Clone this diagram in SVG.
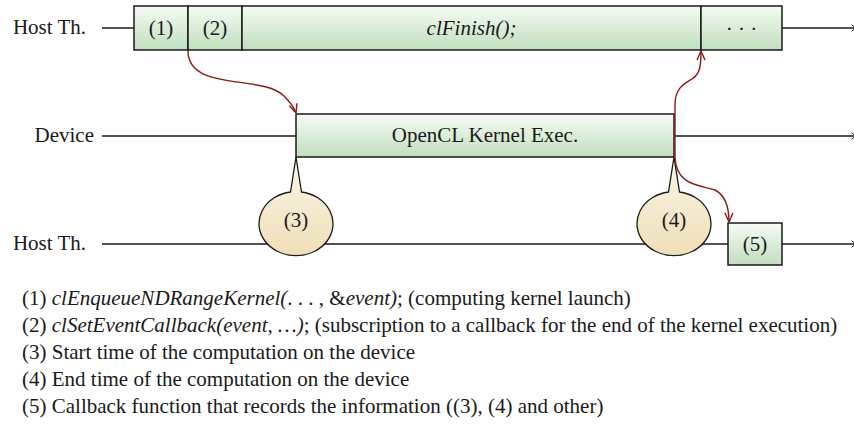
<svg xmlns="http://www.w3.org/2000/svg" width="854" height="443" viewBox="0 0 854 443">
<style>
text{font-family:"Liberation Serif","Times New Roman",serif;font-size:21px;fill:#1a1a1a}
.lbl{text-anchor:end}
.c{text-anchor:middle}
.it{font-style:italic}
.box{fill:url(#g);stroke:#1a1a1a;stroke-width:1.5}
.bub{fill:url(#y);stroke:#1a1a1a;stroke-width:1.3}
.tl{stroke:#1a1a1a;stroke-width:1.5;fill:none}
.red{stroke:#8b1a1a;stroke-width:1.4;fill:none;marker-end:url(#ra)}
</style>
<defs>
<linearGradient id="g" x1="0" y1="0" x2="0" y2="1">
<stop offset="0" stop-color="#f7fbf6"/><stop offset="1" stop-color="#c0dfbd"/>
</linearGradient>
<linearGradient id="y" x1="0" y1="0" x2="0" y2="1">
<stop offset="0" stop-color="#faf6ea"/><stop offset="1" stop-color="#efdfb6"/>
</linearGradient>
<marker id="ra" viewBox="0 0 10 10" refX="10" refY="5" markerWidth="10" markerHeight="10" markerUnits="userSpaceOnUse" orient="auto">
<path d="M1,1 L10,5 L1,9" fill="none" stroke="#8b1a1a" stroke-width="1.4"/>
</marker>
<marker id="ba" viewBox="0 0 10 10" refX="10" refY="5" markerWidth="8" markerHeight="8" markerUnits="userSpaceOnUse" orient="auto">
<path d="M2,1 Q6,5 10,5 Q6,5 2,9" fill="none" stroke="#1a1a1a" stroke-width="1.2"/>
</marker>
</defs>

<g id="timelines">
<text class="lbl" x="86" y="34">Host Th.</text>
<line class="tl" x1="102" y1="28" x2="134" y2="28"/>
<line class="tl" x1="782" y1="28" x2="858" y2="28" marker-end="url(#ba)"/>
<text class="lbl" x="94" y="142">Device</text>
<line class="tl" x1="102" y1="136" x2="296" y2="136"/>
<line class="tl" x1="674" y1="136" x2="858" y2="136" marker-end="url(#ba)"/>
<text class="lbl" x="86" y="250">Host Th.</text>
<line class="tl" x1="102" y1="244" x2="728" y2="244"/>
<line class="tl" x1="782" y1="244" x2="858" y2="244" marker-end="url(#ba)"/>
</g>

<g id="n1"><rect class="box" x="134" y="6" width="54" height="44"/><text class="c" x="161" y="35">(1)</text></g>
<g id="n2"><rect class="box" x="188" y="6" width="54" height="44"/><text class="c" x="215" y="35">(2)</text></g>
<g id="clfinish"><rect class="box" x="242" y="6" width="459" height="44"/><text class="c it" x="471.5" y="35">clFinish();</text></g>
<g id="dots"><rect class="box" x="701" y="6" width="81" height="44"/><text class="c" x="741.5" y="36">·  ·  ·</text></g>
<g id="kernel"><rect class="box" x="296" y="114" width="378" height="43"/><text class="c" x="485" y="142">OpenCL Kernel Exec.</text></g>
<g id="n5"><rect class="box" x="728" y="223" width="54" height="42"/><text class="c" x="755" y="251">(5)</text></g>

<g id="n3"><path class="bub" d="M296,157 L301.5,192 A37,32 0 1 1 290.5,192 Z"/><text class="c" x="296" y="227">(3)</text></g>
<g id="n4"><path class="bub" d="M674,157 L679.5,192 A37,32 0 1 1 668.5,192 Z"/><text class="c" x="674" y="227">(4)</text></g>

<g id="connectors">
<path class="red" d="M188,50 C187,92 262,74 284,96 C290,102 294,107 296,113"/>
<path class="red" d="M675,157 L675,105 C675,88 684,84 692,79 C700,74 701,66 701,51"/>
<path class="red" d="M675,157 C676,186 700,185 715,190 C725,195 729,205 729,222"/>
</g>

<g id="legend">
<text x="22" y="305">(1) <tspan class="it">clEnqueueNDRangeKernel(</tspan>. . . , &amp;<tspan class="it">event)</tspan>; (computing kernel launch)</text>
<text x="22" y="332">(2) <tspan class="it">clSetEventCallback(event, …)</tspan>; (subscription to a callback for the end of the kernel execution)</text>
<text x="22" y="359">(3) Start time of the computation on the device</text>
<text x="22" y="386">(4) End time of the computation on the device</text>
<text x="22" y="413">(5) Callback function that records the information ((3), (4) and other)</text>
</g>
</svg>
